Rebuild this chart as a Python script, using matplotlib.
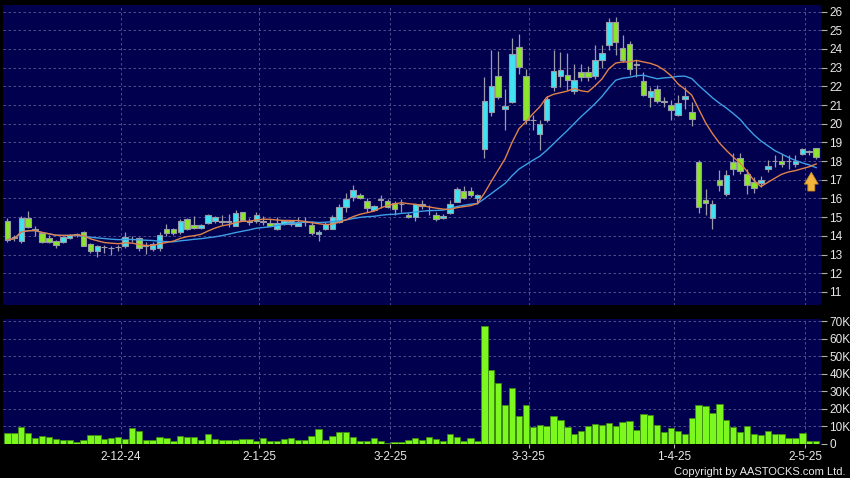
import matplotlib
matplotlib.use("Agg")
import matplotlib.pyplot as plt
import numpy as np
import pandas as pd

# Daily OHLC (index 0 = first bar on the left)
opens = [14.80, 13.92, 13.75, 14.93, 14.35, 14.16, 13.86, 13.75, 13.68, 13.90,
         14.08, 14.20, 13.57, 13.21, 13.40, 13.35, 13.40, 13.43, 13.84, 13.87,
         13.49, 13.30, 13.34, 14.36, 14.36, 14.18, 14.92, 14.57, 14.40, 14.71,
         14.77, 14.76, 14.76, 14.54, 15.26, 14.78, 14.77, 14.78, 14.68, 14.36,
         14.62, 14.62, 14.54, 14.78, 14.59, 14.12, 14.39, 14.39, 14.74, 15.55,
         16.07, 16.20, 15.89, 15.40, 15.95, 15.89, 15.78, 15.71, 15.11, 15.00,
         15.58, 15.38, 15.14, 14.93, 15.23, 15.82, 16.39, 16.39, 16.00, 18.62,
         20.60, 22.54, 20.81, 21.15, 24.10, 22.54, 20.20, 19.44, 20.19, 21.97,
         22.54, 22.63, 21.76, 22.77, 22.77, 22.54, 23.43, 24.20, 25.45, 24.07,
         24.25, 23.18, 22.27, 21.43, 21.88, 21.22, 21.02, 20.45, 21.34, 20.63,
         17.96, 15.94, 14.98, 17.01, 16.23, 17.96, 18.19, 17.30, 16.89, 16.85,
         17.55, 18.01, 18.00, 18.01, 17.83, 18.37, 18.51, 18.70]
highs = [14.95, 14.05, 15.05, 15.35, 14.50, 14.20, 14.05, 13.80, 14.00, 14.12,
         14.15, 14.25, 13.60, 13.50, 13.50, 13.48, 13.50, 14.18, 14.00, 13.93,
         13.65, 13.65, 14.18, 14.62, 14.40, 14.90, 14.98, 15.07, 14.65, 15.15,
         15.05, 15.10, 15.15, 15.38, 15.30, 14.95, 15.30, 15.05, 14.90, 15.00,
         14.85, 14.80, 15.00, 15.00, 14.77, 14.30, 14.72, 15.10, 15.68, 16.30,
         16.74, 16.30, 16.00, 15.65, 16.20, 15.95, 15.85, 15.95, 15.20, 15.72,
         15.90, 15.64, 15.28, 15.15, 15.90, 16.62, 16.66, 16.62, 16.25, 22.50,
         23.93, 23.90, 21.85, 24.60, 24.80, 22.90, 20.45, 20.19, 21.50, 23.95,
         23.84, 23.79, 23.22, 23.22, 23.10, 24.20, 24.20, 25.68, 25.70, 24.73,
         24.43, 23.40, 22.77, 21.97, 22.05, 21.43, 21.25, 21.52, 21.97, 21.17,
         18.05, 16.48, 15.91, 17.51, 17.50, 18.44, 18.44, 17.60, 17.16, 17.20,
         18.05, 18.32, 18.40, 18.30, 18.30, 18.70, 18.60, 18.72]
lows = [13.65, 13.75, 13.60, 14.40, 14.00, 13.60, 13.60, 13.35, 13.60, 13.85,
        13.95, 13.45, 13.10, 12.85, 13.10, 12.95, 13.20, 13.35, 13.65, 13.20,
        13.05, 13.20, 13.20, 14.00, 14.05, 14.10, 14.30, 14.38, 14.35, 14.65,
        14.70, 14.60, 14.45, 14.50, 14.80, 14.60, 14.70, 14.60, 14.50, 14.30,
        14.60, 14.55, 14.50, 14.50, 14.05, 13.74, 14.30, 14.35, 14.70, 15.30,
        15.85, 15.95, 15.30, 15.35, 15.50, 15.50, 15.10, 15.30, 14.95, 14.80,
        15.45, 15.10, 14.80, 14.90, 15.16, 15.80, 15.98, 16.10, 15.73, 18.14,
        20.40, 21.30, 19.67, 21.10, 22.68, 20.00, 19.65, 18.60, 20.10, 21.75,
        21.97, 21.79, 21.61, 22.30, 22.30, 22.40, 23.00, 23.93, 23.66, 23.30,
        22.60, 22.50, 21.50, 20.90, 21.10, 20.90, 20.19, 20.40, 20.80, 19.87,
        15.20, 15.10, 14.34, 16.40, 16.12, 17.25, 17.30, 16.23, 16.30, 16.60,
        17.42, 17.70, 17.70, 17.60, 17.70, 18.30, 18.35, 18.10]
closes = [13.80, 13.90, 14.93, 14.46, 14.33, 13.66, 13.68, 13.50, 13.93, 14.07,
          14.06, 13.48, 13.21, 13.45, 13.38, 13.33, 13.38, 13.95, 13.82, 13.34,
          13.47, 13.57, 14.06, 14.13, 14.13, 14.77, 14.36, 14.42, 14.57, 15.10,
          15.00, 14.78, 14.74, 15.20, 14.85, 14.76, 15.12, 14.76, 14.54, 14.71,
          14.77, 14.77, 14.68, 14.76, 14.15, 14.23, 14.65, 15.02, 15.55, 15.99,
          16.47, 16.03, 15.50, 15.59, 15.93, 15.55, 15.45, 15.69, 15.00, 15.68,
          15.70, 15.36, 14.88, 15.07, 15.73, 16.48, 16.03, 16.21, 16.18, 21.20,
          22.00, 21.45, 20.97, 23.75, 23.05, 20.22, 20.18, 19.97, 21.30, 22.83,
          22.86, 22.33, 22.36, 22.50, 22.50, 23.43, 23.79, 25.45, 24.38, 23.43,
          22.90, 23.14, 21.52, 21.76, 21.20, 21.18, 20.72, 21.11, 21.49, 20.24,
          15.52, 15.77, 15.70, 16.74, 17.28, 17.57, 17.48, 16.74, 16.57, 17.01,
          17.73, 17.98, 17.83, 17.99, 18.00, 18.64, 18.49, 18.20]
# Volume in thousands of shares
volume = [6.5, 6.0, 9.4, 6.0, 3.5, 4.4, 4.0, 2.9, 2.5, 2.5,
          1.0, 2.5, 5.4, 5.0, 2.7, 3.5, 3.8, 2.7, 9.0, 7.5,
          2.5, 2.5, 3.8, 3.3, 1.9, 4.4, 4.2, 4.0, 2.3, 5.6,
          2.9, 2.1, 2.1, 2.5, 2.9, 2.7, 1.9, 3.5, 1.7, 1.7,
          2.9, 3.3, 2.1, 2.1, 4.4, 8.8, 2.1, 4.6, 6.7, 6.9,
          3.8, 1.9, 1.9, 3.3, 1.9, 0.4, 1.3, 1.3, 2.1, 3.5,
          2.3, 3.8, 2.7, 1.7, 5.5, 4.0, 1.7, 3.2, 1.9, 67.3,
          42.0, 34.8, 22.2, 32.1, 16.0, 22.0, 9.9, 11.0, 10.1, 16.0,
          13.5, 9.7, 5.9, 7.2, 10.1, 11.2, 10.8, 12.0, 10.1, 12.5,
          12.9, 7.8, 16.9, 16.3, 10.6, 6.8, 9.1, 7.6, 5.7, 15.0,
          22.0, 21.5, 17.7, 23.0, 13.5, 9.7, 7.0, 10.1, 5.9, 4.9,
          7.4, 5.5, 5.9, 3.4, 3.6, 6.5, 1.7, 1.7]

date_idx = [16, 36, 55, 75, 96, 115]
date_labels = ['2-12-24', '2-1-25', '3-2-25', '3-3-25', '1-4-25', '2-5-25']
price_ticks = list(range(11, 27))
vol_ticks = [0, 10, 20, 30, 40, 50, 60, 70]
vol_labels = ['0', '10K', '20K', '30K', '40K', '50K', '60K', '70K']

o = np.array(opens)
h = np.array(highs)
l = np.array(lows)
c = np.array(closes)
x = np.arange(len(c))
ma10 = pd.Series(c).rolling(10, min_periods=1).mean()
ma20 = pd.Series(c).rolling(20, min_periods=1).mean()

navy = '#00004e'
cyan = '#3fe3f2'
green = '#8ce62a'
edge = '#9a9aa8'
gridc = '#5a5a96'
txt = '#e8e8e8'

plt.rcParams['font.family'] = ['Liberation Sans', 'DejaVu Sans']
fig = plt.figure(figsize=(8.5, 4.78), dpi=100, facecolor='black')
ax = fig.add_axes([3 / 850, 173 / 478, 818 / 850, 300 / 478], facecolor=navy)
axv = fig.add_axes([3 / 850, 34 / 478, 818 / 850, 125 / 478], facecolor=navy)

tick_pos = [d + 0.4 for d in date_idx]
for a in (ax, axv):
    a.set_xlim(-0.65, 117.7)
    for s in a.spines.values():
        s.set_visible(False)
    a.set_xticks(tick_pos)
    a.grid(True, color=gridc, linestyle=(0, (3, 3)), linewidth=0.6)
    a.set_axisbelow(True)
    a.yaxis.tick_right()
    a.tick_params(axis='y', colors='#b0b0b0', labelcolor=txt, labelsize=8.5,
                  length=4, width=0.8, pad=2)

# candles
up = c >= o
cols = np.where(up, cyan, green)
ax.vlines(x, l, h, color=edge, linewidth=0.9, zorder=2)
bottom = np.minimum(o, c)
height = np.maximum(np.abs(c - o), 0.03)
ax.bar(x, height, bottom=bottom, width=0.8, color=cols, edgecolor=edge,
       linewidth=0.8, zorder=3)
ax.plot(x, ma20, color='#3d9ee6', linewidth=1.0, zorder=4)
ax.plot(x, ma10, color='#e0824a', linewidth=1.0, zorder=4)
ax.annotate('', xy=(116.3, 17.55), xytext=(116.3, 16.25),
            arrowprops=dict(arrowstyle='simple,head_length=0.85,head_width=1.0,tail_width=0.5',
                            mutation_scale=10, color='#f2b53c', ec='#c88a20', lw=0.6),
            zorder=5)
ax.set_ylim(10.3, 26.35)
ax.set_yticks(price_ticks)
ax.tick_params(axis='x', length=0, labelbottom=False)

# volume
axv.bar(x, volume, width=0.92, color='#7cf81e', edgecolor='#3c8c10',
        linewidth=0.6, zorder=3)
axv.set_ylim(0, 71.2)
axv.set_yticks(vol_ticks)
axv.set_yticklabels(vol_labels)
axv.set_xticklabels(date_labels)
axv.tick_params(axis='x', colors='#b0b0b0', labelcolor=txt, labelsize=8.5,
                length=3, width=0.8, pad=2)

fig.text(0.995, 1 - 472 / 478, 'Copyright by AASTOCKS.com Ltd.', color=txt,
         fontsize=8, ha='right', va='center')

fig.savefig('out.png', dpi=100, facecolor='black')
